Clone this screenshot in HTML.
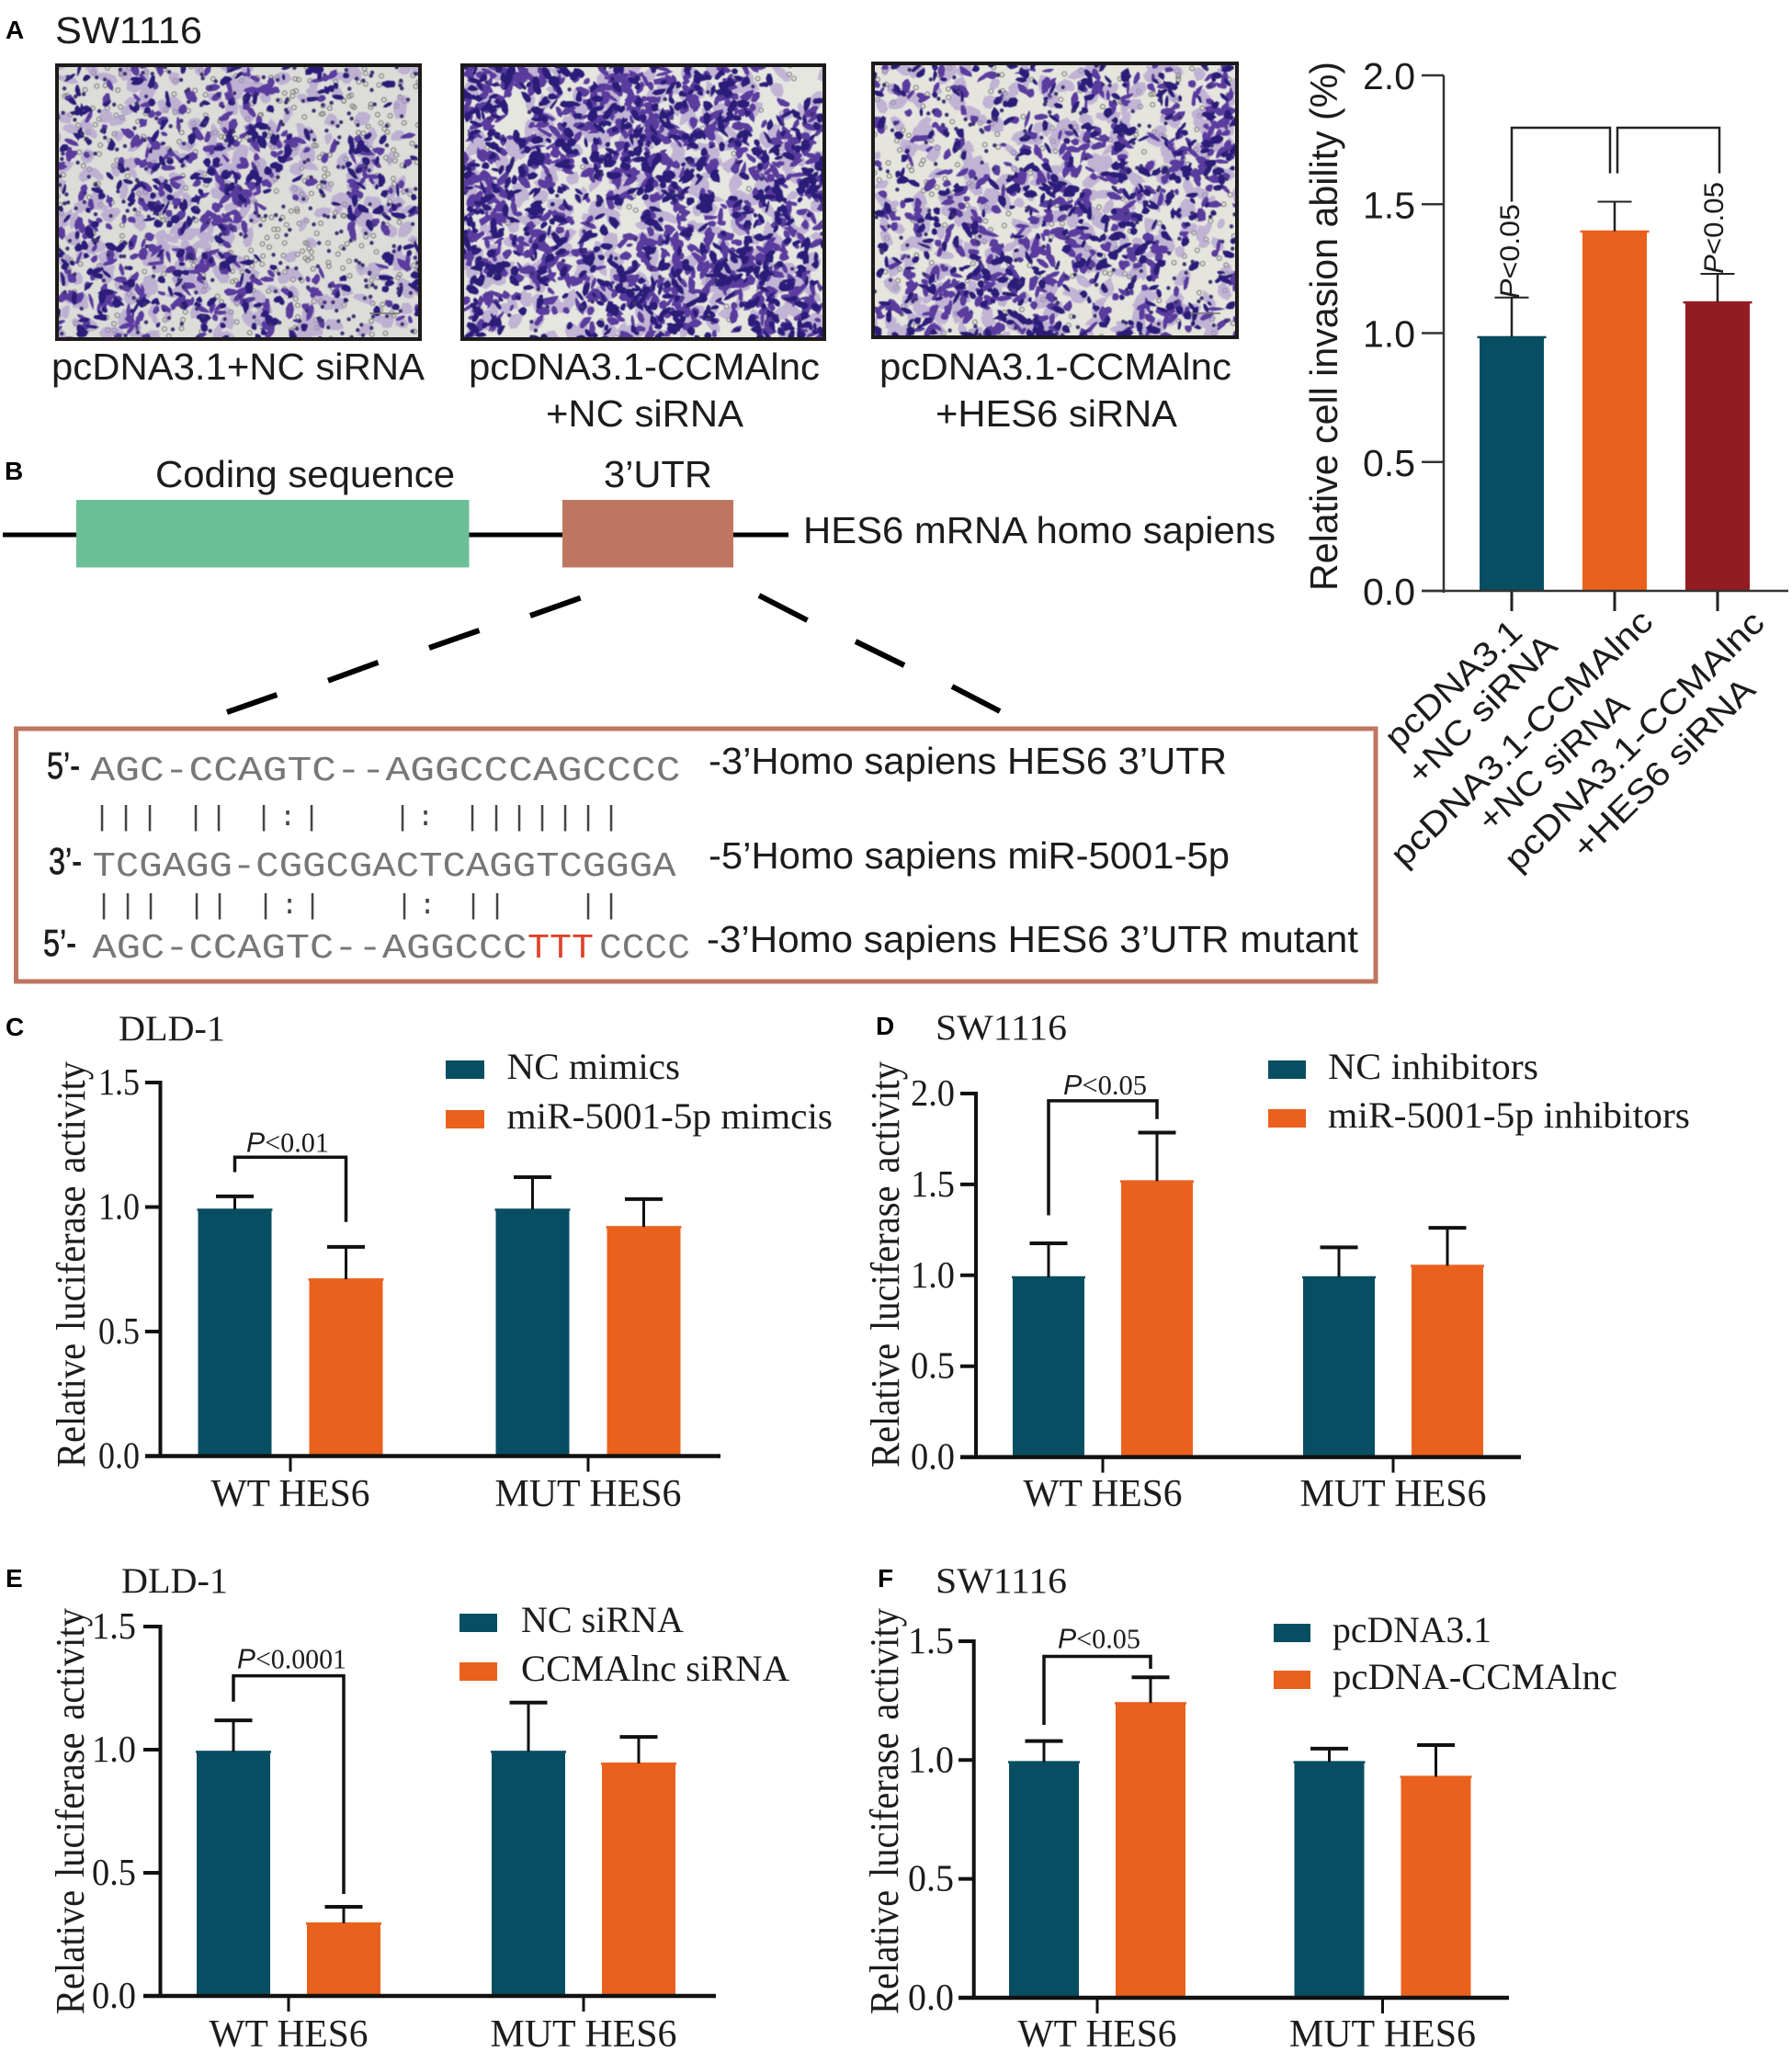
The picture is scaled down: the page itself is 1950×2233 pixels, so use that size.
<!DOCTYPE html>
<html lang="en">
<head>
<meta charset="utf-8">
<title>HES6 figure</title>
<style>
html,body{margin:0;padding:0;background:#fff;}
svg{display:block;}
.sans{font-family:"Liberation Sans",sans-serif;fill:#1c1c1c;}
.serif{font-family:"Liberation Serif",serif;fill:#1c1c1c;}
.mono{font-family:"Liberation Mono",monospace;fill:#777;}
.letter{font-family:"Liberation Sans",sans-serif;font-weight:bold;font-size:28px;fill:#000;}
</style>
</head>
<body>
<svg id="figure" xmlns="http://www.w3.org/2000/svg" width="1950" height="2233" viewBox="0 0 1950 2233">
<defs>
<filter id="soft" x="0" y="0" width="100%" height="100%"><feGaussianBlur stdDeviation="0.6"/></filter>
<clipPath id="clip-1"><rect x="62" y="71" width="395" height="298"/></clipPath>
<clipPath id="clip-2"><rect x="503" y="71" width="394" height="298"/></clipPath>
<clipPath id="clip-3"><rect x="950" y="69" width="396" height="298"/></clipPath>
</defs>
<rect width="1950" height="2233" fill="#fff"/>

<!-- Panel A -->
<text class="letter" x="6" y="42">A</text>
<text class="sans" x="60" y="47" font-size="41" textLength="160" lengthAdjust="spacingAndGlyphs">SW1116</text>
<g id="micro-1" clip-path="url(#clip-1)"></g>
<g id="micro-2" clip-path="url(#clip-2)"></g>
<g id="micro-3" clip-path="url(#clip-3)"></g>
<line x1="402" y1="341" x2="435" y2="341" stroke="#777" stroke-width="1.5"/>
<line x1="1295" y1="341" x2="1328" y2="341" stroke="#777" stroke-width="1.5"/>
<rect x="62" y="71" width="395" height="298" fill="none" stroke="#1d1a1a" stroke-width="4"/>
<rect x="503" y="71" width="394" height="298" fill="none" stroke="#1d1a1a" stroke-width="4"/>
<rect x="950" y="69" width="396" height="298" fill="none" stroke="#1d1a1a" stroke-width="4"/>
<text class="sans" x="56" y="413" font-size="41" textLength="406" lengthAdjust="spacingAndGlyphs">pcDNA3.1+NC siRNA</text>
<text class="sans" x="510" y="413" font-size="41" textLength="382" lengthAdjust="spacingAndGlyphs">pcDNA3.1-CCMAlnc</text>
<text class="sans" x="594" y="464" font-size="41" textLength="215" lengthAdjust="spacingAndGlyphs">+NC siRNA</text>
<text class="sans" x="957" y="413" font-size="41" textLength="383" lengthAdjust="spacingAndGlyphs">pcDNA3.1-CCMAlnc</text>
<text class="sans" x="1018" y="464" font-size="41" textLength="263" lengthAdjust="spacingAndGlyphs">+HES6 siRNA</text>

<g id="chart-a"></g>
<text class="sans" font-size="42" textLength="576" lengthAdjust="spacingAndGlyphs" transform="translate(1455,643) rotate(-90)">Relative cell invasion ability (%)</text>
<text class="sans" font-size="37" textLength="187" lengthAdjust="spacingAndGlyphs" transform="translate(1521,817) rotate(-42.6)">pcDNA3.1</text>
<text class="sans" font-size="37" textLength="213" lengthAdjust="spacingAndGlyphs" transform="translate(1546,856) rotate(-45)">+NC siRNA</text>
<text class="sans" font-size="37" textLength="381" lengthAdjust="spacingAndGlyphs" transform="translate(1528,945) rotate(-44.3)">pcDNA3.1-CCMAlnc</text>
<text class="sans" font-size="37" textLength="205" lengthAdjust="spacingAndGlyphs" transform="translate(1622,907) rotate(-41.6)">+NC siRNA</text>
<text class="sans" font-size="37" textLength="382" lengthAdjust="spacingAndGlyphs" transform="translate(1652,950) rotate(-45)">pcDNA3.1-CCMAlnc</text>
<text class="sans" font-size="37" textLength="262" lengthAdjust="spacingAndGlyphs" transform="translate(1726,937) rotate(-44.7)">+HES6 siRNA</text>
<text class="sans" font-size="30" textLength="103" lengthAdjust="spacingAndGlyphs" transform="translate(1653,325) rotate(-90)"><tspan font-style="italic">P</tspan>&lt;0.05</text>
<text class="sans" font-size="30" textLength="100" lengthAdjust="spacingAndGlyphs" transform="translate(1875,298) rotate(-90)"><tspan font-style="italic">P</tspan>&lt;0.05</text>

<!-- Panel B -->
<text class="letter" x="5" y="522">B</text>
<line x1="3" y1="582" x2="858" y2="582" stroke="#000" stroke-width="5"/>
<rect x="83" y="544" width="427.5" height="73.5" fill="#6cc097"/>
<rect x="612" y="544" width="186" height="73.5" fill="#bf7660"/>
<text class="sans" x="169" y="530" font-size="41" textLength="326" lengthAdjust="spacingAndGlyphs">Coding sequence</text>
<text class="sans" x="657" y="530" font-size="41" textLength="118" lengthAdjust="spacingAndGlyphs">3’UTR</text>
<text class="sans" x="874" y="591" font-size="41" textLength="514" lengthAdjust="spacingAndGlyphs">HES6 mRNA homo sapiens</text>
<g stroke="#000" stroke-width="6">
<line x1="631.6" y1="650.7" x2="577" y2="670"/><line x1="521.5" y1="686" x2="467" y2="705"/><line x1="411.5" y1="720.8" x2="357" y2="740.7"/><line x1="301.4" y1="756" x2="247" y2="775"/>
</g>
<g stroke="#000" stroke-width="6">
<line x1="826" y1="648" x2="878.5" y2="675"/><line x1="931" y1="698" x2="984" y2="724"/><line x1="1036" y1="747" x2="1088" y2="774"/>
</g>
<rect x="17.5" y="793" width="1479.5" height="275" fill="none" stroke="#bf7660" stroke-width="5"/>
<text class="sans" x="51" y="847" font-size="41" stroke="#1c1c1c" stroke-width="0.7" textLength="36" lengthAdjust="spacingAndGlyphs">5’-</text>
<text class="mono" x="98.5" y="849" font-size="38" textLength="642" lengthAdjust="spacingAndGlyphs">AGC-CCAGTC--AGGCCCAGCCCC</text>
<text class="sans" x="771" y="842" font-size="41" textLength="564" lengthAdjust="spacingAndGlyphs">-3’Homo sapiens HES6 3’UTR</text>
<text class="mono" y="898" font-size="31" x="101.7 127.7 153.7 203.7 228.7 277.7 303.7 329.7 428.7 453.7 504.7 530.7 555.7 580.7 605.7 630.7 655.7" style="fill:#444">||||||:||:|||||||</text>
<text class="sans" x="53" y="951" font-size="41" stroke="#1c1c1c" stroke-width="0.7" textLength="36" lengthAdjust="spacingAndGlyphs">3’-</text>
<text class="mono" x="100.5" y="953" font-size="38" textLength="635" lengthAdjust="spacingAndGlyphs">TCGAGG-CGGCGACTCAGGTCGGGA</text>
<text class="sans" x="771" y="945" font-size="41" textLength="567" lengthAdjust="spacingAndGlyphs">-5’Homo sapiens miR-5001-5p</text>
<text class="mono" y="994" font-size="31" x="103.7 129.7 154.7 204.7 229.7 279.7 305.7 330.7 430.7 455.7 505.7 531.7 630.7 655.7" style="fill:#444">||||||:||:||||</text>
<text class="sans" x="47" y="1040" font-size="41" stroke="#1c1c1c" stroke-width="0.7" textLength="36" lengthAdjust="spacingAndGlyphs">5’-</text>
<text class="mono" x="100.5" y="1042" font-size="38" textLength="473" lengthAdjust="spacingAndGlyphs">AGC-CCAGTC--AGGCCC</text>
<text class="mono" x="574" y="1042" font-size="38" textLength="72" lengthAdjust="spacingAndGlyphs" style="fill:#e0432a">TTT</text>
<text class="mono" x="652" y="1042" font-size="38" textLength="99" lengthAdjust="spacingAndGlyphs">CCCC</text>
<text class="sans" x="769" y="1036" font-size="41" textLength="709" lengthAdjust="spacingAndGlyphs">-3’Homo sapiens HES6 3’UTR mutant</text>

<!-- Panels C-F titles -->
<text class="letter" x="6" y="1127">C</text>
<text class="serif" x="129" y="1132" font-size="39" textLength="116" lengthAdjust="spacingAndGlyphs">DLD-1</text>
<text class="letter" x="953" y="1126">D</text>
<text class="serif" x="1018" y="1131" font-size="39" textLength="143" lengthAdjust="spacingAndGlyphs">SW1116</text>
<text class="letter" x="6" y="1727">E</text>
<text class="serif" x="132" y="1733" font-size="39" textLength="116" lengthAdjust="spacingAndGlyphs">DLD-1</text>
<text class="letter" x="955" y="1727">F</text>
<text class="serif" x="1018" y="1733" font-size="39" textLength="143" lengthAdjust="spacingAndGlyphs">SW1116</text>

<g id="chart-c"></g>
<g id="chart-d"></g>
<g id="chart-e"></g>
<g id="chart-f"></g>
</svg>

<script>
/* ---------- chart data ---------- */
const panelACategories = ['pcDNA3.1 +NC siRNA', 'pcDNA3.1-CCMAlnc +NC siRNA', 'pcDNA3.1-CCMAlnc +HES6 siRNA'];
const panelAValues = [0.985, 1.395, 1.12];
const panelAErrors = [0.153, 0.115, 0.11];
const panelATicks = ['0.0', '0.5', '1.0', '1.5', '2.0'];
const panelABracketLevels = [1.51, 1.797, 1.62];

const groupLabels = ['WT HES6', 'MUT HES6'];

const panelCTicks = ['0.0', '0.5', '1.0', '1.5'];
const panelCLegend = ['NC mimics', 'miR-5001-5p mimcis'];
const panelCControl = [0.99, 0.99];
const panelCTreated = [0.71, 0.92];
const panelCControlError = [0.053, 0.13];
const panelCTreatedError = [0.13, 0.112];
const panelCBracket = [1.14, 1.2, 0.94];
const panelCPValue = '<0.01';

const panelDTicks = ['0.0', '0.5', '1.0', '1.5', '2.0'];
const panelDLegend = ['NC inhibitors', 'miR-5001-5p inhibitors'];
const panelDControl = [0.99, 0.99];
const panelDTreated = [1.518, 1.053];
const panelDControlError = [0.186, 0.164];
const panelDTreatedError = [0.267, 0.208];
const panelDBracket = [1.33, 1.96, 1.86];
const panelDPValue = '<0.05';

const panelETicks = ['0.0', '0.5', '1.0', '1.5'];
const panelELegend = ['NC siRNA', 'CCMAlnc siRNA'];
const panelEControl = [0.992, 0.992];
const panelETreated = [0.295, 0.944];
const panelEControlError = [0.127, 0.199];
const panelETreatedError = [0.067, 0.108];
const panelEBracket = [1.195, 1.3, 0.414];
const panelEPValue = '<0.0001';

const panelFTicks = ['0.0', '0.5', '1.0', '1.5'];
const panelFLegend = ['pcDNA3.1', 'pcDNA-CCMAlnc'];
const panelFControl = [0.992, 0.992];
const panelFTreated = [1.24, 0.93];
const panelFControlError = [0.088, 0.056];
const panelFTreatedError = [0.108, 0.133];
const panelFBracket = [1.148, 1.436, 1.384];
const panelFPValue = '<0.05';

const TEAL = '#084e62';
const ORANGE = '#e9611c';
const DARK_RED = '#931c22';
const INK = '#111';
const NS = 'http://www.w3.org/2000/svg';

function makeEl(tag, attrs, parent, text) {
  const el = document.createElementNS(NS, tag);
  for (const k in attrs) el.setAttribute(k, attrs[k]);
  if (text !== undefined) el.textContent = text;
  parent.appendChild(el);
  return el;
}

function line(parent, x1, y1, x2, y2, width, color) {
  return makeEl('line', { x1: x1, y1: y1, x2: x2, y2: y2, stroke: color || INK, 'stroke-width': width }, parent);
}

/* ---------- grouped luciferase charts ---------- */
function drawGrouped(id, cfg, ticks, legend, series, errors, bracket, pText) {
  const root = document.getElementById(id);
  const yAxis = v => cfg.y0 - v * cfg.unit;
  const groupX = g => cfg.xStart + g * cfg.step;
  const barX = (g, s) => groupX(g) + (s === 0 ? -1 : 1) * cfg.offset;
  const colors = [TEAL, ORANGE];
  const top = yAxis(parseFloat(ticks[ticks.length - 1]));

  series.forEach((vals, s) => {
    vals.forEach((v, g) => {
      const cx = barX(g, s);
      const bar = makeEl('rect', { x: cx - cfg.barW / 2, y: yAxis(v), width: cfg.barW, height: cfg.y0 - yAxis(v), fill: colors[s] }, root);
      
      
      const rim = makeEl('rect', { x: cx - cfg.barW / 2 - 1, y: yAxis(v) - 1, width: cfg.barW + 2, height: 2.5, fill: colors[s] }, root);
      
      
      const errTop = yAxis(v + errors[s][g]);
      const stem = line(root, cx, yAxis(v), cx, errTop, 3);
      
      
      const cap = line(root, cx - 20.5, errTop, cx + 20.5, errTop, 4);
      
      
    });
  });

  const yLine = line(root, cfg.axisX, top - 2, cfg.axisX, cfg.y0 + 2, 4);
  
  
  const xLine = line(root, cfg.tickLeft, cfg.y0, cfg.axisRight, cfg.y0, 4.5);
  
  

  ticks.forEach(label => {
    const ty = yAxis(parseFloat(label));
    const tick = line(root, cfg.tickLeft, ty, cfg.axisX, ty, 4);
    
    
    const txt = makeEl('text', { class: 'serif', x: cfg.tickLabelX, y: ty + 13, 'font-size': 41, textLength: cfg.tickLen, lengthAdjust: 'spacingAndGlyphs' }, root, label);
    
    
  });

  groupLabels.forEach((label, g) => {
    const gx = groupX(g);
    const tick = line(root, gx, cfg.y0, gx, cfg.y0 + 17, 3);
    
    
    const len = g === 0 ? 173 : 203;
    const txt = makeEl('text', { class: 'serif', x: gx - len / 2, y: cfg.xLabelY, 'font-size': 42, textLength: len, lengthAdjust: 'spacingAndGlyphs' }, root, label);
    
    
  });

  const title = makeEl('text', { class: 'serif', 'font-size': 44, 'word-spacing': 4, textLength: 442, lengthAdjust: 'spacingAndGlyphs', transform: 'translate(' + cfg.titleX + ',' + cfg.titleY + ') rotate(-90)' }, root, 'Relative luciferase activity');
  
  

  const bl = barX(0, 0), br = barX(0, 1);
  const brk = makeEl('path', { d: 'M' + bl + ' ' + yAxis(bracket[0]) + 'V' + yAxis(bracket[1]) + 'H' + br + 'V' + yAxis(bracket[2]), fill: 'none', stroke: INK, 'stroke-width': 3.5 }, root);
  
  

  const pt = makeEl('text', { class: 'serif', x: cfg.pX, y: yAxis(bracket[1]) - cfg.pGap, 'font-size': 31, textLength: cfg.pLen, lengthAdjust: 'spacingAndGlyphs' }, root);
  
  
  makeEl('tspan', { style: 'font-family:"Liberation Sans",sans-serif;font-style:italic' }, pt, 'P');
  makeEl('tspan', {}, pt, pText);

  legend.forEach((label, i) => {
    const sw = makeEl('rect', { x: cfg.swatchX, y: cfg.legendY[i] - 20, width: cfg.swatchW, height: 20, fill: colors[i] }, root);
    
    
    const t = makeEl('text', { class: 'serif', x: cfg.legendX, y: cfg.legendY[i], 'font-size': 40, textLength: cfg.legendLen[i], lengthAdjust: 'spacingAndGlyphs' }, root, label);
    
    
  });
}

drawGrouped('chart-c', {
  y0: 1584.5, unit: 271, xStart: 316, step: 324, offset: 60.5, barW: 80, axisX: 174.5, tickLeft: 158, axisRight: 784,
  tickLabelX: 107, tickLen: 45, xLabelY: 1639, titleX: 92, titleY: 1597, pX: 268, pLen: 90, pGap: 6,
  swatchX: 485, swatchW: 42, legendX: 551.5, legendY: [1174, 1228], legendLen: [188.5, 354.5]
}, panelCTicks, panelCLegend, [panelCControl, panelCTreated], [panelCControlError, panelCTreatedError], panelCBracket, panelCPValue);

drawGrouped('chart-d', {
  y0: 1585.6, unit: 197.8, xStart: 1200, step: 316, offset: 59, barW: 78, axisX: 1062, tickLeft: 1045, axisRight: 1655,
  tickLabelX: 991, tickLen: 48, xLabelY: 1639, titleX: 978, titleY: 1597, pX: 1157, pLen: 91, pGap: 7,
  swatchX: 1380, swatchW: 41, legendX: 1445, legendY: [1174, 1227], legendLen: [229, 394]
}, panelDTicks, panelDLegend, [panelDControl, panelDTreated], [panelDControlError, panelDTreatedError], panelDBracket, panelDPValue);

drawGrouped('chart-e', {
  y0: 2172, unit: 268, xStart: 314, step: 321, offset: 60, barW: 80, axisX: 174.5, tickLeft: 156, axisRight: 779,
  tickLabelX: 100, tickLen: 48, xLabelY: 2227, titleX: 91, titleY: 2192, pX: 258, pLen: 119, pGap: 8,
  swatchX: 500, swatchW: 41, legendX: 567, legendY: [1776, 1829], legendLen: [177, 292]
}, panelETicks, panelELegend, [panelEControl, panelETreated], [panelEControlError, panelETreatedError], panelEBracket, panelEPValue);

drawGrouped('chart-f', {
  y0: 2174, unit: 258.7, xStart: 1194, step: 310.5, offset: 58, barW: 76, axisX: 1059.7, tickLeft: 1043, axisRight: 1642,
  tickLabelX: 988, tickLen: 50, xLabelY: 2227, titleX: 977, titleY: 2192, pX: 1151, pLen: 90, pGap: 9,
  swatchX: 1386, swatchW: 40, legendX: 1450, legendY: [1787, 1838], legendLen: [173, 310]
}, panelFTicks, panelFLegend, [panelFControl, panelFTreated], [panelFControlError, panelFTreatedError], panelFBracket, panelFPValue);

/* ---------- panel A bar chart ---------- */
(function drawPanelA() {
  const root = document.getElementById('chart-a');
  const y0 = 643, unit = 280.5, axisX = 1571;
  const yAxis = v => y0 - v * unit;
  const xAxis = i => 1645 + i * 112;
  const colors = [TEAL, ORANGE, DARK_RED];

  panelAValues.forEach((v, i) => {
    const cx = xAxis(i);
    const bar = makeEl('rect', { x: cx - 35, y: yAxis(v), width: 70, height: y0 - yAxis(v), fill: colors[i] }, root);
    
    
    const rim = makeEl('rect', { x: cx - 37.5, y: yAxis(v) - 1, width: 75, height: 2.5, fill: colors[i] }, root);
    
    
    const errTop = yAxis(v + panelAErrors[i]);
    const stem = line(root, cx, yAxis(v), cx, errTop, 2.5, '#222');
    
    
    const cap = line(root, cx - 18.5, errTop, cx + 18.5, errTop, 2, '#222');
    
    
    const tick = line(root, cx, y0, cx, y0 + 22, 3, '#222');
    
    
  });

  const yLine = line(root, axisX, yAxis(2), axisX, y0 + 2, 2.5, '#333');
  
  
  const xLine = line(root, 1547, y0, 1946, y0, 2.5, '#333');
  
  

  panelATicks.forEach(label => {
    const ty = yAxis(parseFloat(label));
    const tick = line(root, 1547, ty, axisX, ty, 2.5, '#333');
    
    
    const txt = makeEl('text', { class: 'sans', x: 1483, y: ty + 15, 'font-size': 41, textLength: 57, lengthAdjust: 'spacingAndGlyphs' }, root, label);
    
    
  });

  const leftEnd = yAxis(panelABracketLevels[0]);
  const topY = yAxis(panelABracketLevels[1]);
  const rightEnd = yAxis(panelABracketLevels[2]);
  const left = makeEl('path', { d: 'M' + xAxis(0) + ' ' + leftEnd + 'V' + topY + 'H' + (xAxis(1) - 5) + 'V' + rightEnd, fill: 'none', stroke: '#222', 'stroke-width': 2.5 }, root);
  
  
  const right = makeEl('path', { d: 'M' + (xAxis(1) + 3) + ' ' + rightEnd + 'V' + topY + 'H' + (xAxis(2) + 2) + 'V' + rightEnd, fill: 'none', stroke: '#222', 'stroke-width': 2.5 }, root);
  
  
})();

/* ---------- micrograph textures (coarse stain density maps) ---------- */
const micrographOneDensity = [
  [4,2,5,3,5,6,3,7,1,2],
  [5,4,6,3,5,5,2,1,1,2],
  [5,3,7,5,6,6,7,3,7,3],
  [3,5,6,6,7,8,3,2,7,4],
  [6,4,5,6,7,3,1,2,6,5],
  [5,5,6,6,7,3,1,1,2,5],
  [7,8,6,7,3,6,4,6,1,5],
  [6,5,6,3,6,7,5,2,2,4]
];
const micrographTwoDensity = [
  [8,8,7,6,8,6,7,8,3,1],
  [8,3,7,8,9,8,6,8,5,6],
  [7,6,8,6,8,8,8,6,7,8],
  [8,7,5,5,7,8,7,3,8,8],
  [8,7,8,4,2,6,6,7,7,5],
  [8,7,7,6,5,8,6,9,8,6],
  [6,5,7,6,8,8,6,8,8,8],
  [7,3,4,5,6,8,7,3,8,8]
];
const micrographThreeDensity = [
  [5,5,4,3,6,4,6,5,4,6],
  [4,4,2,5,4,5,6,2,5,8],
  [3,4,4,2,5,6,7,3,7,8],
  [3,3,6,5,7,7,6,6,7,5],
  [5,6,6,4,6,7,5,6,5,4],
  [4,5,5,6,6,6,7,7,3,3],
  [3,7,8,8,6,4,4,5,2,4],
  [6,6,4,6,8,4,5,6,7,5]
];

function drawMicrograph(id, grid, seed, x, y, w, h, bg, ringScale, blobScale) {
  const root = document.getElementById(id);
  let state = seed;
  const rnd = () => {
    state = (state * 1664525 + 1013904223) % 4294967296;
    return state / 4294967296;
  };
  const blob = (cx, cy, a, b) => {
    const rot = rnd() * Math.PI;
    let d = '';
    const n = 7;
    for (let i = 0; i < n; i++) {
      const t = i / n * Math.PI * 2;
      const k = 0.72 + rnd() * 0.5;
      const px = Math.cos(t) * a * k, py = Math.sin(t) * b * k;
      d += (i ? 'L' : 'M') + (cx + px * Math.cos(rot) - py * Math.sin(rot)).toFixed(1) + ' ' + (cy + px * Math.sin(rot) + py * Math.cos(rot)).toFixed(1);
    }
    return d + 'Z';
  };
  const rows = grid.length, cols = grid[0].length;
  const cw = w / cols, ch = h / rows;
  let faint = '', mid = '', dark = '', rings = '', dots = '';
  for (let r = 0; r < rows; r++) {
    for (let c = 0; c < cols; c++) {
      const d = grid[r][c];
      const px = () => x + (c + rnd()) * cw;
      const py = () => y + (r + rnd()) * ch;
      const nf = Math.round(d * 0.8);
      for (let i = 0; i < nf; i++) faint += blob(px(), py(), 6 + rnd() * 7, 4 + rnd() * 5);
      const nb = Math.round(d * d * 0.34 * blobScale);
      for (let i = 0; i < nb; i++) {
        const a = 3.5 + rnd() * 6.5, b = 2 + rnd() * 3;
        if (rnd() < 0.55) mid += blob(px(), py(), a, b);
        else dark += blob(px(), py(), a * 0.85, b * 0.95);
      }
      const nr = Math.round((10 - d) * 1.5 * ringScale);
      for (let i = 0; i < nr; i++) {
        const rx = px(), ry = py();
        if (rnd() < 0.55) rings += 'M' + (rx - 2.4).toFixed(1) + ' ' + ry.toFixed(1) + 'a2.4 2.4 0 1 0 4.8 0a2.4 2.4 0 1 0 -4.8 0Z';
        else dots += 'M' + (rx - 2.2).toFixed(1) + ' ' + ry.toFixed(1) + 'a2.2 2.2 0 1 0 4.4 0a2.2 2.2 0 1 0 -4.4 0Z';
      }
    }
  }
  const base = makeEl('rect', { x: x, y: y, width: w, height: h, fill: bg }, root);
  
  
  const layerGroup = makeEl('g', { filter: 'url(#soft)' }, root);
  
  
  const ringPath = makeEl('path', { d: rings, fill: 'none', stroke: '#7e7e7e', 'stroke-width': 1.1 }, layerGroup);
  
  
  const faintPath = makeEl('path', { d: faint, fill: '#a892cc', 'fill-opacity': 0.6 }, layerGroup);
  
  
  const midPath = makeEl('path', { d: mid, fill: '#5a3a9e' }, layerGroup);
  
  
  const darkPath = makeEl('path', { d: dark, fill: '#2a1f78' }, layerGroup);
  
  
  const dotPath = makeEl('path', { d: dots, fill: '#3a3070' }, layerGroup);
  
  
}

drawMicrograph('micro-1', micrographOneDensity, 12345, 62, 71, 395, 298, '#dcdcd9', 1, 1);
drawMicrograph('micro-2', micrographTwoDensity, 67891, 503, 71, 394, 298, '#e6e6e0', 0.2, 1.35);
drawMicrograph('micro-3', micrographThreeDensity, 24680, 950, 69, 396, 298, '#e5e5de', 0.7, 1.15);
</script>
</body>
</html>
